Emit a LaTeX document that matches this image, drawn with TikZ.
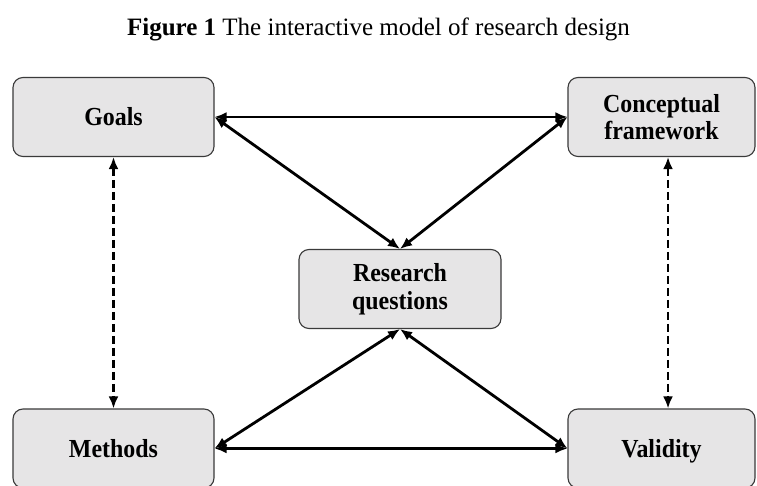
\documentclass[tikz,border=0pt]{standalone}
\usepackage{fontspec}
\setmainfont{Liberation Serif}
\newfontfamily\boxfont[FakeStretch=0.92]{Liberation Serif}
\usetikzlibrary{arrows.meta}
\definecolor{boxfill}{HTML}{E6E5E6}
\definecolor{boxline}{HTML}{3A3A3A}
\begin{document}
\begin{tikzpicture}[x=1pt,y=1pt,
  stage/.style={draw=boxline, line width=1.1pt, fill=boxfill, rounded corners=10pt,
    minimum width=201pt, minimum height=79pt, align=center, inner sep=0pt,
    font=\boxfont\fontsize{26}{27.5}\selectfont\bfseries},
  oneline/.style={text height=17pt, text depth=0pt},
  link/.style={line width=2.8pt, {Latex[length=12pt,width=10pt]}-{Latex[length=12pt,width=10pt]}},
  dashlink/.style={link, dash pattern=on 8pt off 4pt}]
\useasboundingbox (0,0) rectangle (757,485);
\clip (0,0) rectangle (757,485);
\fill[white] (0,0) rectangle (757,485);

% title
\node (title) at (378.5,456) {\fontsize{25}{28}\selectfont\textbf{Figure 1} The interactive model of research design};

% the five components
\node[stage, oneline] (go) at (113.5,368) {Goals};
\node[stage, minimum width=187pt] (cf) at (661.5,368) {Conceptual\\framework};
\node[stage, minimum width=202pt] (rq) at (400,196) {Research\\questions};
\node[stage, oneline] (me) at (113.5,36.5) {Methods};
\node[stage, oneline, minimum width=187pt] (va) at (661.5,36.5) {Validity};

% interactions
\draw[link] (go.east) -- (cf.west);
\draw[link] (go.east) -- (rq.north);
\draw[link] (cf.west) -- (rq.north);
\draw[link] (me.east) -- (va.west);
\draw[link] (me.east) -- (rq.south);
\draw[link] (va.west) -- (rq.south);
\draw[dashlink] (go.south) -- (me.north);
\draw[dashlink] ([xshift=6.5pt]cf.south) -- ([xshift=6.5pt]va.north);
\end{tikzpicture}
\end{document}
